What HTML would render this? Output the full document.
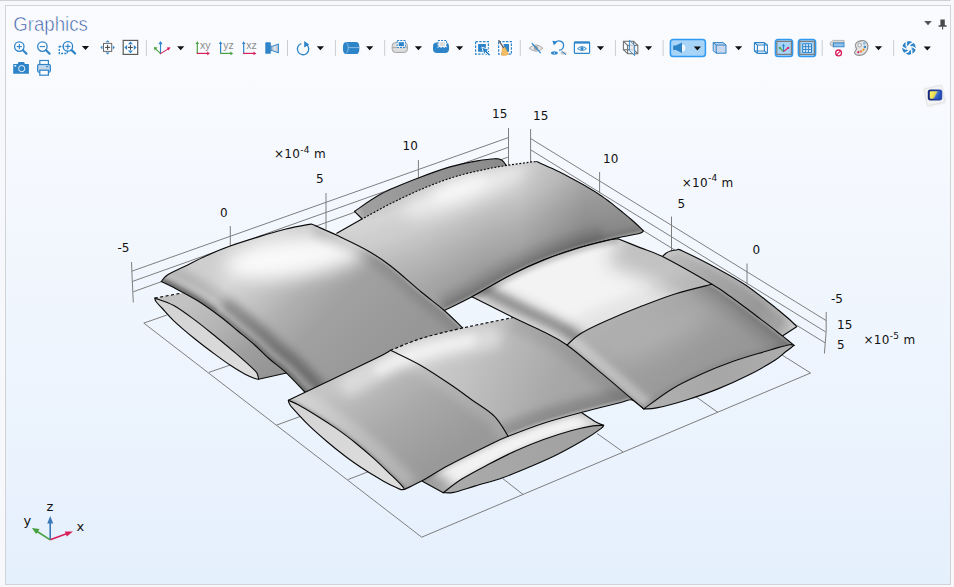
<!DOCTYPE html>
<html><head><meta charset="utf-8"><title>Graphics</title>
<style>
html,body{margin:0;padding:0;background:#f7f8fc;}
body{width:954px;height:587px;overflow:hidden;position:relative;font-family:"Liberation Sans",sans-serif;}
svg{position:absolute;left:0;top:0;display:block}
.ax{font-family:"DejaVu Sans","Liberation Sans",sans-serif;font-size:12px;fill:#111}
.axs{font-family:"DejaVu Sans","Liberation Sans",sans-serif;font-size:9px;fill:#111}
.tri{font-family:"DejaVu Sans","Liberation Sans",sans-serif;font-size:13px;fill:#111}
.ttl{font-family:"Liberation Sans",sans-serif;font-size:20px;fill:#2f54a0}
.ic{font-family:"Liberation Sans",sans-serif;font-size:10.5px;fill:#8c8c8c}
</style></head><body>
<svg width="954" height="587" viewBox="0 0 954 587">
<defs>
<linearGradient id="bg" x1="0" y1="0" x2="0" y2="1">
<stop offset="0" stop-color="#fafbfe"/><stop offset="0.15" stop-color="#f8fafe"/><stop offset="1" stop-color="#e5f0fd"/>
</linearGradient>
<linearGradient id="gH" gradientUnits="userSpaceOnUse" x1="354" y1="211" x2="506" y2="160"><stop offset="0" stop-color="#c0c0c0"/><stop offset="0.06" stop-color="#a0a0a0"/><stop offset="0.5" stop-color="#949494"/><stop offset="1" stop-color="#8a8a8a"/></linearGradient>
<clipPath id="c1"><path d="M354.5 211.4C359.1 208.4 371.2 199.2 381.8 193.6C392.4 188 407 182.4 418.4 178C429.8 173.6 440.2 169.8 450 166.9C459.8 164.1 469.8 162.3 477.3 160.9C484.8 159.5 490.9 158.8 495 158.7C499.1 158.6 500.1 159 502 160.2C503.9 161.4 505.8 164.9 506.5 165.8C505.4 167.5 522.4 166 500 176C477.6 186 395 218.8 372 226C349 233.2 365.1 221.4 362.2 219C359.3 216.6 355.8 212.7 354.5 211.4Z"/></clipPath>
<linearGradient id="gB" gradientUnits="userSpaceOnUse" x1="195" y1="295" x2="270" y2="375"><stop offset="0" stop-color="#c2c2c2"/><stop offset="0.35" stop-color="#b4b4b4"/><stop offset="0.7" stop-color="#9e9e9e"/><stop offset="1" stop-color="#949494"/></linearGradient>
<clipPath id="c2"><path d="M154.8 298.1C159.2 297.3 165.4 296.1 181.3 293.2C197.2 290.3 238.6 283 250 281L300 370C297.6 370.5 292.4 371.6 285.5 373.2C278.6 374.8 263.1 378.3 258.6 379.3C258.5 378.7 258.4 377 257.8 375.6C257.2 374.2 258.6 374.4 255 370.7C251.3 367 242.5 359.1 235.9 353.4C229.3 347.7 222.2 341.9 215.4 336.3C208.6 330.8 201.9 325.2 195 320.1C188.1 315 180.5 309.2 173.8 305.5C167.1 301.8 158 299.3 154.8 298.1Z"/></clipPath>
<linearGradient id="gBc" gradientUnits="userSpaceOnUse" x1="154" y1="298" x2="259" y2="380"><stop offset="0" stop-color="#d2d2d2"/><stop offset="0.5" stop-color="#d8d8d8"/><stop offset="1" stop-color="#dedede"/></linearGradient>
<linearGradient id="gG" gradientUnits="userSpaceOnUse" x1="452" y1="182" x2="488" y2="288"><stop offset="0" stop-color="#c4c4c4"/><stop offset="0.1" stop-color="#d0d0d0"/><stop offset="0.3" stop-color="#c6c6c6"/><stop offset="0.55" stop-color="#b0b0b0"/><stop offset="0.8" stop-color="#9e9e9e"/><stop offset="1" stop-color="#969696"/></linearGradient>
<linearGradient id="gGx" gradientUnits="userSpaceOnUse" x1="420" y1="215" x2="640" y2="215"><stop offset="0" stop-color="#fff" stop-opacity="0.1"/><stop offset="0.3" stop-color="#fff" stop-opacity="0.0"/><stop offset="0.45" stop-color="#000" stop-opacity="0.0"/><stop offset="0.75" stop-color="#000" stop-opacity="0.13"/><stop offset="1" stop-color="#000" stop-opacity="0.1"/></linearGradient>
<filter id="bl8" filterUnits="userSpaceOnUse" x="0" y="0" width="954" height="587"><feGaussianBlur stdDeviation="8"/></filter>
<filter id="bl6" filterUnits="userSpaceOnUse" x="0" y="0" width="954" height="587"><feGaussianBlur stdDeviation="6"/></filter>
<filter id="bl5" filterUnits="userSpaceOnUse" x="0" y="0" width="954" height="587"><feGaussianBlur stdDeviation="5"/></filter>
<filter id="bl3" filterUnits="userSpaceOnUse" x="0" y="0" width="954" height="587"><feGaussianBlur stdDeviation="3"/></filter>
<filter id="bl1" filterUnits="userSpaceOnUse" x="0" y="0" width="954" height="587"><feGaussianBlur stdDeviation="1"/></filter>
<clipPath id="c3"><path d="M336.8 233.2C340.8 230.9 351.7 224.7 361 219.6C370.3 214.5 381.9 207.9 392.4 202.7C402.9 197.5 413.4 192.5 423.9 188.2C434.4 183.8 444.8 179.8 455.3 176.6C465.8 173.4 478.1 170.9 486.8 169C495.5 167.1 500.7 166.4 507.7 165.3C514.7 164.2 524.2 162.9 529 162.3C533.8 161.7 535.4 161.7 536.7 161.6C539.3 162.8 547.1 166.1 552.4 168.6C557.7 171.1 563.2 173.9 568.6 176.7C574 179.5 579.6 182.6 584.7 185.6C589.8 188.6 595 191.7 599.3 194.5C603.6 197.3 606.5 199.5 610.6 202.6C614.7 205.7 619.8 210 623.6 213.1C627.4 216.2 630 218.3 633.3 221.2C636.6 224.1 641.6 229 643.2 230.6C642.7 231 644.2 232 640 233.2C635.8 234.4 623.8 236.5 618 237.8C612.2 239.1 612.5 239 605.3 240.9C598.1 242.8 584.9 245.9 574.7 249.1C564.5 252.3 554.2 255.8 544 259.9C533.8 264 525.3 267.6 513.3 273.7C501.3 279.8 483.5 290.6 472 296.7C460.5 302.8 448.9 308.2 444.3 310.5C436.9 314.1 421.1 342.8 400 332C378.9 321.2 328.5 262.5 318 246C307.5 229.5 333.7 235.3 336.8 233.2Z"/></clipPath>
<filter id="bl2" filterUnits="userSpaceOnUse" x="0" y="0" width="954" height="587"><feGaussianBlur stdDeviation="2"/></filter>
<filter id="bl1_5" filterUnits="userSpaceOnUse" x="0" y="0" width="954" height="587"><feGaussianBlur stdDeviation="1.5"/></filter>
<filter id="bl4" filterUnits="userSpaceOnUse" x="0" y="0" width="954" height="587"><feGaussianBlur stdDeviation="4"/></filter>
<clipPath id="c4"><path d="M422.3 481.3L443.3 492.7C446.4 490.4 454.2 483.9 461.8 479.1C469.4 474.3 480 468.9 489.1 464.1C498.2 459.3 507.3 454.6 516.4 450.5C525.5 446.4 534.5 442.8 543.6 439.5C552.7 436.2 562.7 433.1 570.9 430.8C579.1 428.5 587.2 426.8 592.7 425.9C598.2 425 601.8 425.5 603.6 425.4C602.2 424.8 599 423.9 595.4 421.8C591.8 419.7 584.1 414.3 581.8 412.8C578.2 410.7 585.3 392.1 560 400C534.7 407.9 452.9 446.4 430 460C407.1 473.6 423.6 477.8 422.3 481.3Z"/></clipPath>
<linearGradient id="gDc" gradientUnits="userSpaceOnUse" x1="443" y1="492" x2="603" y2="425"><stop offset="0" stop-color="#acacac"/><stop offset="0.5" stop-color="#a5a5a5"/><stop offset="1" stop-color="#a0a0a0"/></linearGradient>
<linearGradient id="gA" gradientUnits="userSpaceOnUse" x1="232" y1="238" x2="372" y2="372"><stop offset="0" stop-color="#cecece"/><stop offset="0.15" stop-color="#d4d4d4"/><stop offset="0.3" stop-color="#c4c4c4"/><stop offset="0.45" stop-color="#b0b0b0"/><stop offset="0.62" stop-color="#a1a1a1"/><stop offset="1" stop-color="#979797"/></linearGradient>
<filter id="bl9" filterUnits="userSpaceOnUse" x="0" y="0" width="954" height="587"><feGaussianBlur stdDeviation="9"/></filter>
<filter id="bl2_5" filterUnits="userSpaceOnUse" x="0" y="0" width="954" height="587"><feGaussianBlur stdDeviation="2.5"/></filter>
<clipPath id="c5"><path d="M161.3 281.6C161.9 280.9 163.2 278.7 164.6 277.4C166 276.1 166.1 275.7 169.5 273.8C172.9 271.9 178.9 269.2 185 266.2C191.1 263.2 198.8 259.2 206.3 255.8C213.8 252.4 221.2 249.2 230.2 246C239.1 242.8 250.9 239.2 260 236.4C269.1 233.6 277.1 231.3 285 229.3C292.9 227.3 303 225.4 307.5 224.6C312 223.8 310.6 224.1 312 224.3C313.4 224.5 315.3 225.7 316 226C319.6 227.6 328.8 231.4 337.5 235.6C346.2 239.8 359.3 245.8 368.2 250.9C377.1 256 381.8 259.1 390.7 266C399.6 272.9 412.4 284.6 421.3 292C430.2 299.4 437.4 304.5 444.3 310.5C451.2 316.5 458.1 323.6 462.7 328C467.3 332.4 470.4 335.5 472 337L312 399C310.6 397.7 308.2 395.4 303.9 391C299.6 386.6 291.8 378 286 372.6C280.2 367.2 274.4 363.4 269.2 358.8C264 354.2 260.4 350 255 345.2C249.6 340.4 242.9 335.1 237 330.2C231.1 325.3 226.1 320.9 219.5 316C212.9 311.1 205.3 305.5 197.7 300.8C190.1 296.1 179.9 290.8 173.8 287.6C167.7 284.4 163.4 282.6 161.3 281.6Z"/></clipPath>
<linearGradient id="gF" gradientUnits="userSpaceOnUse" x1="670" y1="252" x2="796" y2="330"><stop offset="0" stop-color="#bcbcbc"/><stop offset="0.3" stop-color="#a8a8a8"/><stop offset="0.7" stop-color="#989898"/><stop offset="0.88" stop-color="#a2a2a2"/><stop offset="1" stop-color="#cccccc"/></linearGradient>
<clipPath id="c6"><path d="M662.5 256.6C663.1 256 664.7 254.1 666 253.2C667.3 252.3 668.7 251.5 670.5 251C672.3 250.5 674.7 250 676.8 250C678.9 250 675.5 247.7 683 251.2C690.5 254.7 711.2 265.2 721.7 270.9C732.2 276.6 738.1 279.9 746.3 285.4C754.5 290.9 765.5 299.9 770.8 304C776.1 308.1 775.4 307.6 778.3 310C781.2 312.4 785 315.5 788.1 318.2C791.2 320.9 795.2 325 796.6 326.4L796.6 327L782.8 335.8C777.3 335.8 771.3 346.6 750 336C728.7 325.4 669.6 285.2 655 272C640.4 258.8 661.2 259.2 662.5 256.6Z"/></clipPath>
<linearGradient id="gC1" gradientUnits="userSpaceOnUse" x1="360" y1="370" x2="430" y2="470"><stop offset="0" stop-color="#c4c4c4"/><stop offset="0.2" stop-color="#b8b8b8"/><stop offset="0.5" stop-color="#a9a9a9"/><stop offset="0.8" stop-color="#9f9f9f"/><stop offset="1" stop-color="#999999"/></linearGradient>
<clipPath id="c7"><path d="M288.4 400.3C302.4 393.6 355.3 368.3 372.4 360C389.4 351.7 387.6 351.9 390.7 350.3C395.8 352.9 411.1 359.8 421.3 365.7C431.5 371.6 443.6 379.9 452 385.6C460.4 391.3 464.9 394.9 472 400C479.1 405.1 488.5 410.3 494.5 416.4C500.5 422.4 505.9 433 508.2 436.3C505 437.8 499.1 440.1 489.1 445C479.1 449.9 459.1 459.7 448.2 465.5C437.3 471.3 430.8 476 423.5 480C416.2 484 407.8 487.8 404.6 489.4C404.1 488.8 403.8 487.8 401.8 485.6C399.8 483.4 397.1 480.7 392.4 476.2C387.7 471.7 379.9 464 373.7 458.4C367.5 452.8 361.2 447.5 355 442.5C348.8 437.5 342.4 432.8 336.2 428.4C329.9 424 323.8 420.1 317.5 416.2C311.2 412.3 303.6 407.6 298.7 405C293.8 402.4 290.1 401.1 288.4 400.3Z"/></clipPath>
<linearGradient id="gC2" gradientUnits="userSpaceOnUse" x1="430" y1="345" x2="600" y2="415"><stop offset="0" stop-color="#cccccc"/><stop offset="0.2" stop-color="#c4c4c4"/><stop offset="0.45" stop-color="#b6b6b6"/><stop offset="0.7" stop-color="#a8a8a8"/><stop offset="1" stop-color="#a0a0a0"/></linearGradient>
<filter id="bl1_2" filterUnits="userSpaceOnUse" x="0" y="0" width="954" height="587"><feGaussianBlur stdDeviation="1.2"/></filter>
<clipPath id="c8"><path d="M390.7 350.3C395.8 352.9 411.1 359.8 421.3 365.7C431.5 371.6 443.6 379.9 452 385.6C460.4 391.3 464.9 394.9 472 400C479.1 405.1 488.5 410.3 494.5 416.4C500.5 422.4 505.9 433 508.2 436.3C514.1 434.1 531.3 427.2 543.6 423.2C555.9 419.2 569.1 415.7 581.8 412.3C594.5 408.9 611.6 404.8 620 402.7C628.4 400.6 628.1 398.9 632.1 399.9C636.1 400.9 641.8 407.4 643.8 408.9C642 407.4 639.4 405.4 633 400C626.6 394.6 616.3 385.6 605.3 376.4C594.3 367.2 577.2 352.4 567 345C556.8 337.6 553 336.6 544 332C535 327.4 518.4 319.9 513.3 317.5C504.9 319.2 478 324.5 462.7 328C447.4 331.5 433.3 334.7 421.3 338.4C409.3 342.1 395.8 348.3 390.7 350.3Z"/></clipPath>
<linearGradient id="gCc" gradientUnits="userSpaceOnUse" x1="288" y1="400" x2="404" y2="490"><stop offset="0" stop-color="#d4d4d4"/><stop offset="0.5" stop-color="#d9d9d9"/><stop offset="1" stop-color="#dedede"/></linearGradient>
<filter id="bl3_5" filterUnits="userSpaceOnUse" x="0" y="0" width="954" height="587"><feGaussianBlur stdDeviation="3.5"/></filter>
<clipPath id="c9"><path d="M472 296.7C478.9 292.9 501.3 279.8 513.3 273.7C525.3 267.6 533.8 264 544 259.9C554.2 255.8 564.5 252.3 574.7 249.1C584.9 245.9 598.1 242.6 605.3 240.9C612.5 239.2 615.9 239.1 618 238.7C621.7 240.2 632.6 244.6 640 247.6C647.4 250.6 650.5 250.5 662.5 256.6C674.5 262.7 703.8 279.7 712 284.3C705.8 285.9 687 290.2 675 294C663 297.8 651.6 302.3 640 306.8C628.4 311.3 615.2 316.8 605.3 321.2C595.4 325.6 587.2 329.5 580.8 333.5C574.4 337.5 569.3 343.1 567 345C563.2 342.8 553 336.6 544 332C535 327.4 525.3 323.4 513.3 317.5C501.3 311.6 478.9 300.2 472 296.7Z"/></clipPath>
<linearGradient id="gE2" gradientUnits="userSpaceOnUse" x1="640" y1="300" x2="705" y2="385"><stop offset="0" stop-color="#b0b0b0"/><stop offset="0.3" stop-color="#a3a3a3"/><stop offset="0.7" stop-color="#9b9b9b"/><stop offset="1" stop-color="#969696"/></linearGradient>
<filter id="bl10" filterUnits="userSpaceOnUse" x="0" y="0" width="954" height="587"><feGaussianBlur stdDeviation="10"/></filter>
<clipPath id="c10"><path d="M567 345C569.3 343.1 574.4 337.5 580.8 333.5C587.2 329.5 595.4 325.6 605.3 321.2C615.2 316.8 628.4 311.3 640 306.8C651.6 302.3 663 297.8 675 294C687 290.2 705.8 285.9 712 284.3C715 286.3 724.3 292.2 730 296.2C735.7 300.1 741 304.3 746 308C751 311.7 755.5 315.2 760 318.6C764.5 322 769 325.4 772.8 328.4C776.6 331.4 779.5 333.6 783 336.4C786.5 339.2 792.2 343.9 794.1 345.4C793.4 345.3 792.6 344.3 789.8 344.7C786.9 345.1 781.3 346.7 777 347.9C772.7 349.1 771.3 349.6 764 351.8C756.7 354 743.5 357.7 733.3 361.3C723.1 364.9 712.9 369 702.7 373.6C692.5 378.2 681.8 383 672 388.9C662.2 394.8 648.5 405.6 643.8 408.9C642 407.4 639.4 405.4 633 400C626.6 394.6 616.3 385.6 605.3 376.4C594.3 367.2 573.4 350.2 567 345Z"/></clipPath>
<linearGradient id="gEc" gradientUnits="userSpaceOnUse" x1="644" y1="409" x2="795" y2="346"><stop offset="0" stop-color="#b0b0b0"/><stop offset="0.5" stop-color="#a7a7a7"/><stop offset="1" stop-color="#adadad"/></linearGradient>
<linearGradient id="tcam" x1="0" y1="0" x2="1" y2="0"><stop offset="0" stop-color="#8fa8bf"/><stop offset="0.5" stop-color="#dfe6ee"/><stop offset="1" stop-color="#aebfd0"/></linearGradient>
<linearGradient id="tlogo" x1="0" y1="0.3" x2="1" y2="0.7"><stop offset="0" stop-color="#fff45a"/><stop offset="0.45" stop-color="#e6dc58"/><stop offset="0.62" stop-color="#3f6fd0"/><stop offset="1" stop-color="#1f4bb8"/></linearGradient>
<linearGradient id="tlogo2" x1="0" y1="0" x2="1" y2="0"><stop offset="0" stop-color="#16267e"/><stop offset="1" stop-color="#2b4fb4"/></linearGradient>
<filter id="tsh" x="-30%" y="-30%" width="160%" height="160%"><feGaussianBlur stdDeviation="1"/></filter>
</defs>
<rect x="0" y="0" width="954" height="587" fill="#f7f8fc"/>
<rect x="0" y="0" width="950.5" height="1" fill="#d0d0d0"/>
<rect x="5.5" y="5.5" width="945" height="579" fill="url(#bg)" stroke="#d3d3d3" stroke-width="1"/>
<g stroke-linecap="butt">
<line x1="131.8" y1="271.2" x2="508.4" y2="137.6" stroke="#7e7e7e" stroke-width="1"/>
<line x1="132.6" y1="281.4" x2="508.2" y2="147.4" stroke="#7e7e7e" stroke-width="1"/>
<line x1="133.2" y1="291.8" x2="507.8" y2="157.2" stroke="#7e7e7e" stroke-width="1"/>
<path d="M131.5 262 L132.2 279 L133.3 302.5" fill="none" stroke="#7e7e7e"/>
<line x1="230.3" y1="226" x2="230.3" y2="247" stroke="#7e7e7e" stroke-width="1"/>
<line x1="326" y1="193" x2="326" y2="229" stroke="#7e7e7e" stroke-width="1"/>
<line x1="418.4" y1="160" x2="418.4" y2="179" stroke="#7e7e7e" stroke-width="1"/>
<line x1="508.5" y1="128" x2="508.5" y2="166" stroke="#7e7e7e" stroke-width="1"/>
<line x1="530.6" y1="138.5" x2="826.2" y2="320.6" stroke="#7e7e7e" stroke-width="1"/>
<line x1="530.6" y1="149.8" x2="825.6" y2="331.9" stroke="#7e7e7e" stroke-width="1"/>
<line x1="530.6" y1="161" x2="825" y2="342.8" stroke="#7e7e7e" stroke-width="1"/>
<line x1="530.6" y1="129" x2="530.6" y2="163" stroke="#7e7e7e" stroke-width="1"/>
<line x1="599.6" y1="172" x2="599.6" y2="193" stroke="#7e7e7e" stroke-width="1"/>
<line x1="671.5" y1="216.5" x2="671.5" y2="251" stroke="#7e7e7e" stroke-width="1"/>
<line x1="747" y1="263.5" x2="747" y2="284.5" stroke="#7e7e7e" stroke-width="1"/>
<path d="M826.2 312 L826.2 331 L824.4 353.5" fill="none" stroke="#7e7e7e"/>
<path d="M167.5 314.8 L143.8 323.1 L421.7 537.2 L810.6 373 L782 355" fill="none" stroke="#7e7e7e"/>
<line x1="208.9" y1="372.4" x2="229.8" y2="365.2" stroke="#7e7e7e" stroke-width="1"/>
<line x1="276.6" y1="425.1" x2="300.9" y2="416.2" stroke="#7e7e7e" stroke-width="1"/>
<line x1="348.1" y1="479.5" x2="368.6" y2="471.6" stroke="#7e7e7e" stroke-width="1"/>
<line x1="523.2" y1="494.6" x2="502.7" y2="478.5" stroke="#7e7e7e" stroke-width="1"/>
<line x1="622.9" y1="451.8" x2="596.9" y2="433.4" stroke="#7e7e7e" stroke-width="1"/>
<line x1="718" y1="412.5" x2="695" y2="396" stroke="#7e7e7e" stroke-width="1"/>
</g>
<g clip-path="url(#c1)">
<path d="M354.5 211.4C359.1 208.4 371.2 199.2 381.8 193.6C392.4 188 407 182.4 418.4 178C429.8 173.6 440.2 169.8 450 166.9C459.8 164.1 469.8 162.3 477.3 160.9C484.8 159.5 490.9 158.8 495 158.7C499.1 158.6 500.1 159 502 160.2C503.9 161.4 505.8 164.9 506.5 165.8C505.4 167.5 522.4 166 500 176C477.6 186 395 218.8 372 226C349 233.2 365.1 221.4 362.2 219C359.3 216.6 355.8 212.7 354.5 211.4Z" fill="url(#gH)"/>
</g>
<path d="M354.5 211.4C359.1 208.4 371.2 199.2 381.8 193.6C392.4 188 407 182.4 418.4 178C429.8 173.6 440.2 169.8 450 166.9C459.8 164.1 469.8 162.3 477.3 160.9C484.8 159.5 490.9 158.8 495 158.7C499.1 158.6 500.1 159 502 160.2C503.9 161.4 505.8 164.9 506.5 165.8" fill="none" stroke="#0a0a0a" stroke-width="1.15" stroke-linecap="round" stroke-linejoin="round" />
<path d="M362.2 219L354.5 211.4" fill="none" stroke="#0a0a0a" stroke-width="1.15" stroke-linecap="round" stroke-linejoin="round" />
<g clip-path="url(#c2)">
<path d="M154.8 298.1C159.2 297.3 165.4 296.1 181.3 293.2C197.2 290.3 238.6 283 250 281L300 370C297.6 370.5 292.4 371.6 285.5 373.2C278.6 374.8 263.1 378.3 258.6 379.3C258.5 378.7 258.4 377 257.8 375.6C257.2 374.2 258.6 374.4 255 370.7C251.3 367 242.5 359.1 235.9 353.4C229.3 347.7 222.2 341.9 215.4 336.3C208.6 330.8 201.9 325.2 195 320.1C188.1 315 180.5 309.2 173.8 305.5C167.1 301.8 158 299.3 154.8 298.1Z" fill="url(#gB)"/>
</g>
<path d="M300 370C297.6 370.5 292.4 371.6 285.5 373.2C278.6 374.8 263.1 378.3 258.6 379.3" fill="none" stroke="#0a0a0a" stroke-width="1.15" stroke-linecap="round" stroke-linejoin="round" />
<path d="M154.8 298.1 L182 293" fill="none" stroke="#0a0a0a" stroke-width="1.2" stroke-linecap="butt" stroke-linejoin="round" stroke-dasharray="3 2.5"/>
<path d="M154.8 298.1C158 299.3 167.1 301.8 173.8 305.5C180.5 309.2 188.1 315 195 320.1C201.9 325.2 208.6 330.8 215.4 336.3C222.2 341.9 229.3 347.7 235.9 353.4C242.5 359.1 251.3 367 255 370.7C258.6 374.4 257.2 374.2 257.8 375.6C258.4 377 258.5 378.7 258.6 379.3C258 379.2 257.2 379.3 254.9 378.5C252.7 377.7 249.1 376.4 245.1 374.3C241.1 372.2 235.8 368.9 230.8 365.6C225.9 362.3 221.4 359 215.4 354.6C209.4 350.2 201.9 344.6 195 339C188.1 333.4 179.3 326 173.8 320.8C168.3 315.6 164.9 311.2 161.9 308C158.9 304.8 157.2 303.1 156 301.5C154.8 299.9 155 298.7 154.8 298.1Z" fill="url(#gBc)" stroke="#0a0a0a" stroke-width="1.15" stroke-linejoin="round" />
<g clip-path="url(#c3)">
<path d="M336.8 233.2C340.8 230.9 351.7 224.7 361 219.6C370.3 214.5 381.9 207.9 392.4 202.7C402.9 197.5 413.4 192.5 423.9 188.2C434.4 183.8 444.8 179.8 455.3 176.6C465.8 173.4 478.1 170.9 486.8 169C495.5 167.1 500.7 166.4 507.7 165.3C514.7 164.2 524.2 162.9 529 162.3C533.8 161.7 535.4 161.7 536.7 161.6C539.3 162.8 547.1 166.1 552.4 168.6C557.7 171.1 563.2 173.9 568.6 176.7C574 179.5 579.6 182.6 584.7 185.6C589.8 188.6 595 191.7 599.3 194.5C603.6 197.3 606.5 199.5 610.6 202.6C614.7 205.7 619.8 210 623.6 213.1C627.4 216.2 630 218.3 633.3 221.2C636.6 224.1 641.6 229 643.2 230.6C642.7 231 644.2 232 640 233.2C635.8 234.4 623.8 236.5 618 237.8C612.2 239.1 612.5 239 605.3 240.9C598.1 242.8 584.9 245.9 574.7 249.1C564.5 252.3 554.2 255.8 544 259.9C533.8 264 525.3 267.6 513.3 273.7C501.3 279.8 483.5 290.6 472 296.7C460.5 302.8 448.9 308.2 444.3 310.5C436.9 314.1 421.1 342.8 400 332C378.9 321.2 328.5 262.5 318 246C307.5 229.5 333.7 235.3 336.8 233.2Z" fill="url(#gG)"/>
<rect x="300" y="140" width="360" height="200" fill="url(#gGx)"/>
<ellipse cx="464" cy="191" rx="66" ry="15" transform="rotate(-20 464 191)" fill="#fff" fill-opacity="0.55" filter="url(#bl8)"/>
<ellipse cx="460" cy="188" rx="30" ry="9" transform="rotate(-20 460 188)" fill="#fff" fill-opacity="0.6" filter="url(#bl6)"/>
<path d="M605.3 240.9C600.2 242.3 584.9 245.9 574.7 249.1C564.5 252.3 554.2 255.8 544 259.9C533.8 264 525.3 267.6 513.3 273.7C501.3 279.8 483.5 290.6 472 296.7C460.5 302.8 448.9 308.2 444.3 310.5" fill="none" stroke="#000" stroke-opacity="0.12" stroke-width="30" stroke-linecap="butt" stroke-linejoin="round" filter="url(#bl5)"/>
<path d="M643.2 230.6C642.7 231 644.2 232 640 233.2C635.8 234.4 623.8 236.5 618 237.8C612.2 239.1 612.5 239 605.3 240.9C598.1 242.8 584.9 245.9 574.7 249.1C564.5 252.3 554.2 255.8 544 259.9C533.8 264 525.3 267.6 513.3 273.7C501.3 279.8 483.5 290.6 472 296.7C460.5 302.8 448.9 308.2 444.3 310.5" fill="none" stroke="#000" stroke-opacity="0.12" stroke-width="14" stroke-linecap="butt" stroke-linejoin="round" filter="url(#bl3)"/>
<path d="M643.2 230.6C642.7 231 644.2 232 640 233.2C635.8 234.4 623.8 236.5 618 237.8C612.2 239.1 612.5 239 605.3 240.9C598.1 242.8 584.9 245.9 574.7 249.1C564.5 252.3 554.2 255.8 544 259.9C533.8 264 525.3 267.6 513.3 273.7C501.3 279.8 483.5 290.6 472 296.7C460.5 302.8 448.9 308.2 444.3 310.5" fill="none" stroke="#fff" stroke-opacity="0.3" stroke-width="3.5" stroke-linecap="butt" stroke-linejoin="round" filter="url(#bl1)"/>
<path d="M318 246L400 332" fill="none" stroke="#000" stroke-opacity="0.06" stroke-width="40" stroke-linecap="butt" stroke-linejoin="round" filter="url(#bl8)"/>
</g>
<path d="M336.8 233.2L361 219.6" fill="none" stroke="#0a0a0a" stroke-width="1.15" stroke-linecap="round" stroke-linejoin="round" />
<path d="M361 219.6C366.2 216.8 381.9 207.9 392.4 202.7C402.9 197.5 413.4 192.5 423.9 188.2C434.4 183.8 444.8 179.8 455.3 176.6C465.8 173.4 478.1 170.9 486.8 169C495.5 167.1 500.7 166.4 507.7 165.3C514.7 164.2 524.2 162.9 529 162.3C533.8 161.7 535.4 161.7 536.7 161.6" fill="none" stroke="#0a0a0a" stroke-width="1.15" stroke-linecap="butt" stroke-linejoin="round" stroke-dasharray="1.9 1.7"/>
<path d="M536.7 161.6C539.3 162.8 547.1 166.1 552.4 168.6C557.7 171.1 563.2 173.9 568.6 176.7C574 179.5 579.6 182.6 584.7 185.6C589.8 188.6 595 191.7 599.3 194.5C603.6 197.3 606.5 199.5 610.6 202.6C614.7 205.7 619.8 210 623.6 213.1C627.4 216.2 630 218.3 633.3 221.2C636.6 224.1 641.6 229 643.2 230.6" fill="none" stroke="#0a0a0a" stroke-width="1.15" stroke-linecap="round" stroke-linejoin="round" />
<path d="M643.2 230.6C642.7 231 644.2 232 640 233.2C635.8 234.4 623.8 236.5 618 237.8C612.2 239.1 612.5 239 605.3 240.9C598.1 242.8 584.9 245.9 574.7 249.1C564.5 252.3 554.2 255.8 544 259.9C533.8 264 525.3 267.6 513.3 273.7C501.3 279.8 483.5 290.6 472 296.7C460.5 302.8 448.9 308.2 444.3 310.5" fill="none" stroke="#0a0a0a" stroke-width="1.15" stroke-linecap="round" stroke-linejoin="round" />
<g clip-path="url(#c4)">
<path d="M422.3 481.3L443.3 492.7C446.4 490.4 454.2 483.9 461.8 479.1C469.4 474.3 480 468.9 489.1 464.1C498.2 459.3 507.3 454.6 516.4 450.5C525.5 446.4 534.5 442.8 543.6 439.5C552.7 436.2 562.7 433.1 570.9 430.8C579.1 428.5 587.2 426.8 592.7 425.9C598.2 425 601.8 425.5 603.6 425.4C602.2 424.8 599 423.9 595.4 421.8C591.8 419.7 584.1 414.3 581.8 412.8C578.2 410.7 585.3 392.1 560 400C534.7 407.9 452.9 446.4 430 460C407.1 473.6 423.6 477.8 422.3 481.3Z" fill="#f2f2f2"/>
<path d="M405.9 488.6C412.9 484.8 434.3 472.8 448.2 465.5C462.1 458.2 479.1 449.9 489.1 445C499.1 440.1 499.1 439.9 508.2 436.3C517.3 432.7 531.3 427.2 543.6 423.2C555.9 419.2 569.1 415.7 581.8 412.3C594.5 408.9 613.6 404.3 620 402.7" fill="none" stroke="#000" stroke-opacity="0.14" stroke-width="6" stroke-linecap="butt" stroke-linejoin="round" filter="url(#bl2)"/>
<path d="M443.3 492.7C446.4 490.4 454.2 483.9 461.8 479.1C469.4 474.3 480 468.9 489.1 464.1C498.2 459.3 507.3 454.6 516.4 450.5C525.5 446.4 534.5 442.8 543.6 439.5C552.7 436.2 562.7 433.1 570.9 430.8C579.1 428.5 587.2 426.8 592.7 425.9C598.2 425 601.8 425.5 603.6 425.4" fill="none" stroke="#000" stroke-opacity="0.08" stroke-width="4" stroke-linecap="butt" stroke-linejoin="round" filter="url(#bl1_5)"/>
<path d="M416 477L446 497" fill="none" stroke="#000" stroke-opacity="0.34" stroke-width="30" stroke-linecap="butt" stroke-linejoin="round" filter="url(#bl6)"/>
<path d="M583 408L606 428" fill="none" stroke="#000" stroke-opacity="0.15" stroke-width="18" stroke-linecap="butt" stroke-linejoin="round" filter="url(#bl4)"/>
</g>
<path d="M422.3 481.3L443.3 492.7" fill="none" stroke="#0a0a0a" stroke-width="1.15" stroke-linecap="round" stroke-linejoin="round" />
<path d="M603.6 425.4C602.2 424.8 599 423.9 595.4 421.8C591.8 419.7 584.1 414.3 581.8 412.8" fill="none" stroke="#0a0a0a" stroke-width="1.15" stroke-linecap="round" stroke-linejoin="round" />
<path d="M443.3 492.7C446.4 490.4 454.2 483.9 461.8 479.1C469.4 474.3 480 468.9 489.1 464.1C498.2 459.3 507.3 454.6 516.4 450.5C525.5 446.4 534.5 442.8 543.6 439.5C552.7 436.2 562.7 433.1 570.9 430.8C579.1 428.5 587.2 426.8 592.7 425.9C598.2 425 601.8 425.5 603.6 425.4C603.1 425.9 604.1 426.2 600.9 428.6C597.7 431 591.8 435.2 584.5 439.5C577.2 443.8 566.4 449.9 557.3 454.5C548.2 459.1 539.1 462.9 530 466.8C520.9 470.7 511.8 474.5 502.7 477.7C493.6 480.9 483.6 483.4 475.4 485.9C467.2 488.3 459 491.3 453.6 492.4C448.2 493.5 445 492.6 443.3 492.7Z" fill="url(#gDc)" stroke="#0a0a0a" stroke-width="1.15" stroke-linejoin="round" />
<g clip-path="url(#c5)">
<path d="M161.3 281.6C161.9 280.9 163.2 278.7 164.6 277.4C166 276.1 166.1 275.7 169.5 273.8C172.9 271.9 178.9 269.2 185 266.2C191.1 263.2 198.8 259.2 206.3 255.8C213.8 252.4 221.2 249.2 230.2 246C239.1 242.8 250.9 239.2 260 236.4C269.1 233.6 277.1 231.3 285 229.3C292.9 227.3 303 225.4 307.5 224.6C312 223.8 310.6 224.1 312 224.3C313.4 224.5 315.3 225.7 316 226C319.6 227.6 328.8 231.4 337.5 235.6C346.2 239.8 359.3 245.8 368.2 250.9C377.1 256 381.8 259.1 390.7 266C399.6 272.9 412.4 284.6 421.3 292C430.2 299.4 437.4 304.5 444.3 310.5C451.2 316.5 458.1 323.6 462.7 328C467.3 332.4 470.4 335.5 472 337L312 399C310.6 397.7 308.2 395.4 303.9 391C299.6 386.6 291.8 378 286 372.6C280.2 367.2 274.4 363.4 269.2 358.8C264 354.2 260.4 350 255 345.2C249.6 340.4 242.9 335.1 237 330.2C231.1 325.3 226.1 320.9 219.5 316C212.9 311.1 205.3 305.5 197.7 300.8C190.1 296.1 179.9 290.8 173.8 287.6C167.7 284.4 163.4 282.6 161.3 281.6Z" fill="url(#gA)"/>
<ellipse cx="296" cy="257" rx="72" ry="20" transform="rotate(-8 296 257)" fill="#fff" fill-opacity="0.9" filter="url(#bl9)"/>
<path d="M312 399C310.6 397.7 308.2 395.4 303.9 391C299.6 386.6 291.8 378 286 372.6C280.2 367.2 274.4 363.4 269.2 358.8C264 354.2 260.4 350 255 345.2C249.6 340.4 242.9 335.1 237 330.2C231.1 325.3 226.1 320.9 219.5 316C212.9 311.1 205.3 305.5 197.7 300.8C190.1 296.1 179.9 290.8 173.8 287.6C167.7 284.4 163.4 282.6 161.3 281.6" fill="none" stroke="#000" stroke-opacity="0.12" stroke-width="42" stroke-linecap="butt" stroke-linejoin="round" filter="url(#bl4)"/>
<path d="M312 399C310.6 397.7 308.2 395.4 303.9 391C299.6 386.6 291.8 378 286 372.6C280.2 367.2 274.4 363.4 269.2 358.8C264 354.2 260.4 350 255 345.2C249.6 340.4 242.9 335.1 237 330.2C231.1 325.3 226.1 320.9 219.5 316C212.9 311.1 205.3 305.5 197.7 300.8C190.1 296.1 179.9 290.8 173.8 287.6C167.7 284.4 163.4 282.6 161.3 281.6" fill="none" stroke="#fff" stroke-opacity="0.27" stroke-width="20" stroke-linecap="butt" stroke-linejoin="round" filter="url(#bl2)"/>
<path d="M312 399C310.6 397.7 308.2 395.4 303.9 391C299.6 386.6 291.8 378 286 372.6C280.2 367.2 274.4 363.4 269.2 358.8C264 354.2 260.4 350 255 345.2C249.6 340.4 242.9 335.1 237 330.2C231.1 325.3 226.1 320.9 219.5 316C212.9 311.1 205.3 305.5 197.7 300.8C190.1 296.1 179.9 290.8 173.8 287.6C167.7 284.4 163.4 282.6 161.3 281.6" fill="none" stroke="#000" stroke-opacity="0.3" stroke-width="7" stroke-linecap="butt" stroke-linejoin="round" filter="url(#bl1_5)"/>
<path d="M321 391C319.6 389.7 317.2 387.4 312.9 383C308.6 378.6 300.8 370 295 364.6C289.2 359.2 283.4 355.4 278.2 350.8C273 346.2 269.4 342 264 337.2C258.6 332.4 251.9 327.1 246 322.2C240.1 317.3 231.4 310.4 228.5 308" fill="none" stroke="#000" stroke-opacity="0.2" stroke-width="16" stroke-linecap="round" stroke-linejoin="round" filter="url(#bl4)"/>
<path d="M160 281C162.3 282.1 167.5 284.3 173.8 287.6C180.1 290.9 190.8 296.6 197.7 300.8C204.6 305 212.1 311 215 313" fill="none" stroke="#000" stroke-opacity="0.2" stroke-width="14" stroke-linecap="butt" stroke-linejoin="round" filter="url(#bl2_5)"/>
<path d="M316 226C319.6 227.6 328.8 231.4 337.5 235.6C346.2 239.8 359.3 245.8 368.2 250.9C377.1 256 381.8 259.1 390.7 266C399.6 272.9 412.4 284.6 421.3 292C430.2 299.4 437.4 304.5 444.3 310.5C451.2 316.5 458.1 323.6 462.7 328C467.3 332.4 470.4 335.5 472 337" fill="none" stroke="#000" stroke-opacity="0.1" stroke-width="22" stroke-linecap="butt" stroke-linejoin="round" filter="url(#bl4)"/>
<path d="M316 226C319.6 227.6 328.8 231.4 337.5 235.6C346.2 239.8 359.3 245.8 368.2 250.9C377.1 256 381.8 259.1 390.7 266C399.6 272.9 412.4 284.6 421.3 292C430.2 299.4 437.4 304.5 444.3 310.5C451.2 316.5 458.1 323.6 462.7 328C467.3 332.4 470.4 335.5 472 337" fill="none" stroke="#fff" stroke-opacity="0.25" stroke-width="4" stroke-linecap="butt" stroke-linejoin="round" filter="url(#bl1)"/>
</g>
<path d="M161.3 281.6C161.9 280.9 163.2 278.7 164.6 277.4C166 276.1 166.1 275.7 169.5 273.8C172.9 271.9 178.9 269.2 185 266.2C191.1 263.2 198.8 259.2 206.3 255.8C213.8 252.4 221.2 249.2 230.2 246C239.1 242.8 250.9 239.2 260 236.4C269.1 233.6 277.1 231.3 285 229.3C292.9 227.3 303 225.4 307.5 224.6C312 223.8 310.6 224.1 312 224.3C313.4 224.5 315.3 225.7 316 226" fill="none" stroke="#0a0a0a" stroke-width="1.15" stroke-linecap="round" stroke-linejoin="round" />
<path d="M316 226C319.6 227.6 328.8 231.4 337.5 235.6C346.2 239.8 359.3 245.8 368.2 250.9C377.1 256 381.8 259.1 390.7 266C399.6 272.9 412.4 284.6 421.3 292C430.2 299.4 437.4 304.5 444.3 310.5C451.2 316.5 458.1 323.6 462.7 328C467.3 332.4 470.4 335.5 472 337" fill="none" stroke="#0a0a0a" stroke-width="1.15" stroke-linecap="round" stroke-linejoin="round" />
<path d="M312 399C310.6 397.7 308.2 395.4 303.9 391C299.6 386.6 291.8 378 286 372.6C280.2 367.2 274.4 363.4 269.2 358.8C264 354.2 260.4 350 255 345.2C249.6 340.4 242.9 335.1 237 330.2C231.1 325.3 226.1 320.9 219.5 316C212.9 311.1 205.3 305.5 197.7 300.8C190.1 296.1 179.9 290.8 173.8 287.6C167.7 284.4 163.4 282.6 161.3 281.6" fill="none" stroke="#0a0a0a" stroke-width="1.15" stroke-linecap="round" stroke-linejoin="round" />
<g clip-path="url(#c6)">
<path d="M662.5 256.6C663.1 256 664.7 254.1 666 253.2C667.3 252.3 668.7 251.5 670.5 251C672.3 250.5 674.7 250 676.8 250C678.9 250 675.5 247.7 683 251.2C690.5 254.7 711.2 265.2 721.7 270.9C732.2 276.6 738.1 279.9 746.3 285.4C754.5 290.9 765.5 299.9 770.8 304C776.1 308.1 775.4 307.6 778.3 310C781.2 312.4 785 315.5 788.1 318.2C791.2 320.9 795.2 325 796.6 326.4L796.6 327L782.8 335.8C777.3 335.8 771.3 346.6 750 336C728.7 325.4 669.6 285.2 655 272C640.4 258.8 661.2 259.2 662.5 256.6Z" fill="url(#gF)"/>
<path d="M662.5 256.6C663.1 256 664.7 254.1 666 253.2C667.3 252.3 668.7 251.5 670.5 251C672.3 250.5 674.7 250 676.8 250C678.9 250 675.5 247.7 683 251.2C690.5 254.7 711.2 265.2 721.7 270.9C732.2 276.6 738.1 279.9 746.3 285.4C754.5 290.9 765.5 299.9 770.8 304C776.1 308.1 775.4 307.6 778.3 310C781.2 312.4 785 315.5 788.1 318.2C791.2 320.9 795.2 325 796.6 326.4" fill="none" stroke="#fff" stroke-opacity="0.15" stroke-width="8" stroke-linecap="butt" stroke-linejoin="round" filter="url(#bl2)"/>
</g>
<path d="M662.5 256.6C663.1 256 664.7 254.1 666 253.2C667.3 252.3 668.7 251.5 670.5 251C672.3 250.5 674.7 250 676.8 250C678.9 250 675.5 247.7 683 251.2C690.5 254.7 711.2 265.2 721.7 270.9C732.2 276.6 738.1 279.9 746.3 285.4C754.5 290.9 765.5 299.9 770.8 304C776.1 308.1 775.4 307.6 778.3 310C781.2 312.4 785 315.5 788.1 318.2C791.2 320.9 795.2 325 796.6 326.4" fill="none" stroke="#0a0a0a" stroke-width="1.15" stroke-linecap="round" stroke-linejoin="round" />
<path d="M796.6 326.8L782.8 335.8" fill="none" stroke="#0a0a0a" stroke-width="1.15" stroke-linecap="round" stroke-linejoin="round" />
<g clip-path="url(#c7)">
<path d="M288.4 400.3C302.4 393.6 355.3 368.3 372.4 360C389.4 351.7 387.6 351.9 390.7 350.3C395.8 352.9 411.1 359.8 421.3 365.7C431.5 371.6 443.6 379.9 452 385.6C460.4 391.3 464.9 394.9 472 400C479.1 405.1 488.5 410.3 494.5 416.4C500.5 422.4 505.9 433 508.2 436.3C505 437.8 499.1 440.1 489.1 445C479.1 449.9 459.1 459.7 448.2 465.5C437.3 471.3 430.8 476 423.5 480C416.2 484 407.8 487.8 404.6 489.4C404.1 488.8 403.8 487.8 401.8 485.6C399.8 483.4 397.1 480.7 392.4 476.2C387.7 471.7 379.9 464 373.7 458.4C367.5 452.8 361.2 447.5 355 442.5C348.8 437.5 342.4 432.8 336.2 428.4C329.9 424 323.8 420.1 317.5 416.2C311.2 412.3 303.6 407.6 298.7 405C293.8 402.4 290.1 401.1 288.4 400.3Z" fill="url(#gC1)"/>
<path d="M288.4 400.3C290.1 401.1 293.8 402.4 298.7 405C303.6 407.6 311.2 412.3 317.5 416.2C323.8 420.1 329.9 424 336.2 428.4C342.4 432.8 348.8 437.5 355 442.5C361.2 447.5 367.5 452.8 373.7 458.4C379.9 464 387.7 471.7 392.4 476.2C397.1 480.7 399.8 483.4 401.8 485.6C403.8 487.8 404.1 488.8 404.6 489.4" fill="none" stroke="#fff" stroke-opacity="0.22" stroke-width="30" stroke-linecap="butt" stroke-linejoin="round" filter="url(#bl4)"/>
<path d="M288.4 400.3C290.1 401.1 293.8 402.4 298.7 405C303.6 407.6 311.2 412.3 317.5 416.2C323.8 420.1 329.9 424 336.2 428.4C342.4 432.8 348.8 437.5 355 442.5C361.2 447.5 367.5 452.8 373.7 458.4C379.9 464 387.7 471.7 392.4 476.2C397.1 480.7 399.8 483.4 401.8 485.6C403.8 487.8 404.1 488.8 404.6 489.4" fill="none" stroke="#000" stroke-opacity="0.2" stroke-width="4" stroke-linecap="butt" stroke-linejoin="round" filter="url(#bl1_5)"/>
<path d="M350 385C353.7 383.1 364.5 377.3 372 373.5C379.5 369.7 387 365.5 395 362C403 358.5 415.8 354.1 420 352.5" fill="none" stroke="#fff" stroke-opacity="0.42" stroke-width="22" stroke-linecap="round" stroke-linejoin="round" filter="url(#bl6)"/>
<path d="M380 369C383 367.6 391.3 363.2 398 360.5C404.7 357.8 416.3 353.8 420 352.5" fill="none" stroke="#fff" stroke-opacity="0.6" stroke-width="12" stroke-linecap="round" stroke-linejoin="round" filter="url(#bl4)"/>
<path d="M390.7 350.3C395.8 352.9 411.1 359.8 421.3 365.7C431.5 371.6 443.6 379.9 452 385.6C460.4 391.3 464.9 394.9 472 400C479.1 405.1 488.5 410.3 494.5 416.4C500.5 422.4 505.9 433 508.2 436.3" fill="none" stroke="#fff" stroke-opacity="0.12" stroke-width="20" stroke-linecap="butt" stroke-linejoin="round" filter="url(#bl4)"/>
</g>
<g clip-path="url(#c8)">
<path d="M390.7 350.3C395.8 352.9 411.1 359.8 421.3 365.7C431.5 371.6 443.6 379.9 452 385.6C460.4 391.3 464.9 394.9 472 400C479.1 405.1 488.5 410.3 494.5 416.4C500.5 422.4 505.9 433 508.2 436.3C514.1 434.1 531.3 427.2 543.6 423.2C555.9 419.2 569.1 415.7 581.8 412.3C594.5 408.9 611.6 404.8 620 402.7C628.4 400.6 628.1 398.9 632.1 399.9C636.1 400.9 641.8 407.4 643.8 408.9C642 407.4 639.4 405.4 633 400C626.6 394.6 616.3 385.6 605.3 376.4C594.3 367.2 577.2 352.4 567 345C556.8 337.6 553 336.6 544 332C535 327.4 518.4 319.9 513.3 317.5C504.9 319.2 478 324.5 462.7 328C447.4 331.5 433.3 334.7 421.3 338.4C409.3 342.1 395.8 348.3 390.7 350.3Z" fill="url(#gC2)"/>
<path d="M380 370C383 368.6 391.3 364.2 398 361.5C404.7 358.8 411.3 356.2 420 353.5C428.7 350.8 438.3 348.1 450 345.5C461.7 342.9 483.3 339.2 490 338" fill="none" stroke="#fff" stroke-opacity="0.42" stroke-width="24" stroke-linecap="round" stroke-linejoin="round" filter="url(#bl6)"/>
<path d="M398 360.5C401.7 359.2 411.3 355.2 420 352.5C428.7 349.8 441.7 346.5 450 344.5C458.3 342.5 466.7 341.2 470 340.5" fill="none" stroke="#fff" stroke-opacity="0.55" stroke-width="12" stroke-linecap="round" stroke-linejoin="round" filter="url(#bl4)"/>
<path d="M643.8 408.9C641.8 407.4 636.1 400.9 632.1 399.9C628.1 398.9 628.4 400.6 620 402.7C611.6 404.8 594.5 408.9 581.8 412.3C569.1 415.7 555.9 419.2 543.6 423.2C531.3 427.2 517.3 432.7 508.2 436.3C499.1 439.9 499.1 440.1 489.1 445C479.1 449.9 459.1 459.7 448.2 465.5C437.3 471.3 430.8 476 423.5 480C416.2 484 407.8 487.8 404.6 489.4" fill="none" stroke="#000" stroke-opacity="0.16" stroke-width="28" stroke-linecap="butt" stroke-linejoin="round" filter="url(#bl4)"/>
<path d="M643.8 408.9C641.8 407.4 636.1 400.9 632.1 399.9C628.1 398.9 628.4 400.6 620 402.7C611.6 404.8 594.5 408.9 581.8 412.3C569.1 415.7 555.9 419.2 543.6 423.2C531.3 427.2 517.3 432.7 508.2 436.3C499.1 439.9 499.1 440.1 489.1 445C479.1 449.9 459.1 459.7 448.2 465.5C437.3 471.3 430.8 476 423.5 480C416.2 484 407.8 487.8 404.6 489.4" fill="none" stroke="#fff" stroke-opacity="0.35" stroke-width="4" stroke-linecap="butt" stroke-linejoin="round" filter="url(#bl1_2)"/>
<path d="M513.3 317.5C518.4 319.9 535 327.4 544 332C553 336.6 556.8 337.6 567 345C577.2 352.4 594.3 367.2 605.3 376.4C616.3 385.6 626.6 394.6 633 400C639.4 405.4 642 407.4 643.8 408.9" fill="none" stroke="#000" stroke-opacity="0.08" stroke-width="26" stroke-linecap="butt" stroke-linejoin="round" filter="url(#bl5)"/>
</g>
<path d="M288.4 400.3C302.4 393.6 355.3 368.3 372.4 360C389.4 351.7 387.6 351.9 390.7 350.3" fill="none" stroke="#0a0a0a" stroke-width="1.15" stroke-linecap="round" stroke-linejoin="round" />
<path d="M390.7 350.3C395.8 348.3 409.3 342.1 421.3 338.4C433.3 334.7 447.4 331.5 462.7 328C478 324.5 504.9 319.2 513.3 317.5" fill="none" stroke="#0a0a0a" stroke-width="1.15" stroke-linecap="butt" stroke-linejoin="round" stroke-dasharray="3 2.2"/>
<path d="M390.7 350.3C395.8 352.9 411.1 359.8 421.3 365.7C431.5 371.6 443.6 379.9 452 385.6C460.4 391.3 464.9 394.9 472 400C479.1 405.1 488.5 410.3 494.5 416.4C500.5 422.4 505.9 433 508.2 436.3" fill="none" stroke="#0a0a0a" stroke-width="1.15" stroke-linecap="round" stroke-linejoin="round" />
<path d="M643.8 408.9C641.8 407.4 636.1 400.9 632.1 399.9C628.1 398.9 628.4 400.6 620 402.7C611.6 404.8 594.5 408.9 581.8 412.3C569.1 415.7 555.9 419.2 543.6 423.2C531.3 427.2 517.3 432.7 508.2 436.3C499.1 439.9 499.1 440.1 489.1 445C479.1 449.9 459.1 459.7 448.2 465.5C437.3 471.3 430.8 476 423.5 480C416.2 484 407.8 487.8 404.6 489.4" fill="none" stroke="#0a0a0a" stroke-width="1.15" stroke-linecap="round" stroke-linejoin="round" />
<path d="M288.4 400.3C290.1 401.1 293.8 402.4 298.7 405C303.6 407.6 311.2 412.3 317.5 416.2C323.8 420.1 329.9 424 336.2 428.4C342.4 432.8 348.8 437.5 355 442.5C361.2 447.5 367.5 452.8 373.7 458.4C379.9 464 387.7 471.7 392.4 476.2C397.1 480.7 399.8 483.4 401.8 485.6C403.8 487.8 404.1 488.8 404.6 489.4C404 489.4 402.4 489.9 401 489.6C399.6 489.3 399.2 489.1 396.2 487.6C393.2 486.2 388.4 483.9 383.1 480.9C377.8 477.9 370.6 473.7 364.3 469.6C358.1 465.5 351.8 461.2 345.6 456.5C339.4 451.8 333.1 446.8 326.9 441.5C320.6 436.2 313.7 430.2 308.1 424.7C302.5 419.2 296.2 412.2 293.1 408.7C290 405.2 290.1 404.9 289.3 403.5C288.5 402.1 288.5 400.8 288.4 400.3Z" fill="url(#gCc)" stroke="#0a0a0a" stroke-width="1.15" stroke-linejoin="round" />
<g clip-path="url(#c9)">
<path d="M472 296.7C478.9 292.9 501.3 279.8 513.3 273.7C525.3 267.6 533.8 264 544 259.9C554.2 255.8 564.5 252.3 574.7 249.1C584.9 245.9 598.1 242.6 605.3 240.9C612.5 239.2 615.9 239.1 618 238.7C621.7 240.2 632.6 244.6 640 247.6C647.4 250.6 650.5 250.5 662.5 256.6C674.5 262.7 703.8 279.7 712 284.3C705.8 285.9 687 290.2 675 294C663 297.8 651.6 302.3 640 306.8C628.4 311.3 615.2 316.8 605.3 321.2C595.4 325.6 587.2 329.5 580.8 333.5C574.4 337.5 569.3 343.1 567 345C563.2 342.8 553 336.6 544 332C535 327.4 525.3 323.4 513.3 317.5C501.3 311.6 478.9 300.2 472 296.7Z" fill="#f3f3f3"/>
<path d="M643.8 408.9C642 407.4 639.4 405.4 633 400C626.6 394.6 616.3 385.6 605.3 376.4C594.3 367.2 577.2 352.4 567 345C556.8 337.6 553 336.6 544 332C535 327.4 525.3 323.4 513.3 317.5C501.3 311.6 478.9 300.2 472 296.7" fill="none" stroke="#000" stroke-opacity="0.13" stroke-width="44" stroke-linecap="butt" stroke-linejoin="round" filter="url(#bl5)"/>
<path d="M611.8 366.9C605.4 361.7 583.7 342.9 573.5 335.5C563.3 328.1 559.5 327.1 550.5 322.5C541.5 317.9 531.8 313.9 519.8 308C507.8 302.1 485.4 290.7 478.5 287.2" fill="none" stroke="#000" stroke-opacity="0.3" stroke-width="11" stroke-linecap="round" stroke-linejoin="round" filter="url(#bl3_5)"/>
<path d="M618 238.7C621.7 240.2 632.6 244.6 640 247.6C647.4 250.6 650.5 250.5 662.5 256.6C674.5 262.7 700.8 277.7 712 284.3C723.2 290.9 724.3 292.2 730 296.2C735.7 300.1 741 304.3 746 308C751 311.7 755.5 315.2 760 318.6C764.5 322 769 325.4 772.8 328.4C776.6 331.4 779.5 333.6 783 336.4C786.5 339.2 792.2 343.9 794.1 345.4" fill="none" stroke="#000" stroke-opacity="0.2" stroke-width="56" stroke-linecap="butt" stroke-linejoin="round" filter="url(#bl9)"/>
<path d="M472 296.7C478.9 292.9 501.3 279.8 513.3 273.7C525.3 267.6 533.8 264 544 259.9C554.2 255.8 564.5 252.3 574.7 249.1C584.9 245.9 598.1 242.6 605.3 240.9C612.5 239.2 615.9 239.1 618 238.7" fill="none" stroke="#000" stroke-opacity="0.2" stroke-width="9" stroke-linecap="butt" stroke-linejoin="round" filter="url(#bl2_5)"/>
<path d="M567 345C569.3 343.1 574.4 337.5 580.8 333.5C587.2 329.5 595.4 325.6 605.3 321.2C615.2 316.8 628.4 311.3 640 306.8C651.6 302.3 663 297.8 675 294C687 290.2 705.8 285.9 712 284.3" fill="none" stroke="#000" stroke-opacity="0.06" stroke-width="30" stroke-linecap="butt" stroke-linejoin="round" filter="url(#bl6)"/>
</g>
<g clip-path="url(#c10)">
<path d="M567 345C569.3 343.1 574.4 337.5 580.8 333.5C587.2 329.5 595.4 325.6 605.3 321.2C615.2 316.8 628.4 311.3 640 306.8C651.6 302.3 663 297.8 675 294C687 290.2 705.8 285.9 712 284.3C715 286.3 724.3 292.2 730 296.2C735.7 300.1 741 304.3 746 308C751 311.7 755.5 315.2 760 318.6C764.5 322 769 325.4 772.8 328.4C776.6 331.4 779.5 333.6 783 336.4C786.5 339.2 792.2 343.9 794.1 345.4C793.4 345.3 792.6 344.3 789.8 344.7C786.9 345.1 781.3 346.7 777 347.9C772.7 349.1 771.3 349.6 764 351.8C756.7 354 743.5 357.7 733.3 361.3C723.1 364.9 712.9 369 702.7 373.6C692.5 378.2 681.8 383 672 388.9C662.2 394.8 648.5 405.6 643.8 408.9C642 407.4 639.4 405.4 633 400C626.6 394.6 616.3 385.6 605.3 376.4C594.3 367.2 573.4 350.2 567 345Z" fill="url(#gE2)"/>
<path d="M643.8 408.9C642 407.4 639.4 405.4 633 400C626.6 394.6 616.3 385.6 605.3 376.4C594.3 367.2 577.2 352.4 567 345C556.8 337.6 553 336.6 544 332C535 327.4 525.3 323.4 513.3 317.5C501.3 311.6 478.9 300.2 472 296.7" fill="none" stroke="#fff" stroke-opacity="0.3" stroke-width="24" stroke-linecap="butt" stroke-linejoin="round" filter="url(#bl3)"/>
<path d="M643.8 408.9C642 407.4 639.4 405.4 633 400C626.6 394.6 616.3 385.6 605.3 376.4C594.3 367.2 577.2 352.4 567 345C556.8 337.6 553 336.6 544 332C535 327.4 525.3 323.4 513.3 317.5C501.3 311.6 478.9 300.2 472 296.7" fill="none" stroke="#000" stroke-opacity="0.12" stroke-width="5" stroke-linecap="butt" stroke-linejoin="round" filter="url(#bl1_5)"/>
<ellipse cx="655" cy="335" rx="55" ry="16" transform="rotate(-24 655 335)" fill="#fff" fill-opacity="0.13" filter="url(#bl10)"/>
<path d="M618 238.7C621.7 240.2 632.6 244.6 640 247.6C647.4 250.6 650.5 250.5 662.5 256.6C674.5 262.7 700.8 277.7 712 284.3C723.2 290.9 724.3 292.2 730 296.2C735.7 300.1 741 304.3 746 308C751 311.7 755.5 315.2 760 318.6C764.5 322 769 325.4 772.8 328.4C776.6 331.4 779.5 333.6 783 336.4C786.5 339.2 792.2 343.9 794.1 345.4" fill="none" stroke="#000" stroke-opacity="0.1" stroke-width="34" stroke-linecap="butt" stroke-linejoin="round" filter="url(#bl6)"/>
<path d="M618 238.7C621.7 240.2 632.6 244.6 640 247.6C647.4 250.6 650.5 250.5 662.5 256.6C674.5 262.7 700.8 277.7 712 284.3C723.2 290.9 724.3 292.2 730 296.2C735.7 300.1 741 304.3 746 308C751 311.7 755.5 315.2 760 318.6C764.5 322 769 325.4 772.8 328.4C776.6 331.4 779.5 333.6 783 336.4C786.5 339.2 792.2 343.9 794.1 345.4" fill="none" stroke="#000" stroke-opacity="0.1" stroke-width="14" stroke-linecap="butt" stroke-linejoin="round" filter="url(#bl3)"/>
<path d="M618 238.7C621.7 240.2 632.6 244.6 640 247.6C647.4 250.6 650.5 250.5 662.5 256.6C674.5 262.7 700.8 277.7 712 284.3C723.2 290.9 724.3 292.2 730 296.2C735.7 300.1 741 304.3 746 308C751 311.7 755.5 315.2 760 318.6C764.5 322 769 325.4 772.8 328.4C776.6 331.4 779.5 333.6 783 336.4C786.5 339.2 792.2 343.9 794.1 345.4" fill="none" stroke="#fff" stroke-opacity="0.25" stroke-width="4" stroke-linecap="butt" stroke-linejoin="round" filter="url(#bl1)"/>
<path d="M794.1 345.4C793.4 345.3 792.6 344.3 789.8 344.7C786.9 345.1 781.3 346.7 777 347.9C772.7 349.1 771.3 349.6 764 351.8C756.7 354 743.5 357.7 733.3 361.3C723.1 364.9 712.9 369 702.7 373.6C692.5 378.2 681.8 383 672 388.9C662.2 394.8 648.5 405.6 643.8 408.9" fill="none" stroke="#000" stroke-opacity="0.06" stroke-width="8" stroke-linecap="butt" stroke-linejoin="round" filter="url(#bl2)"/>
</g>
<path d="M472 296.7C478.9 292.9 501.3 279.8 513.3 273.7C525.3 267.6 533.8 264 544 259.9C554.2 255.8 564.5 252.3 574.7 249.1C584.9 245.9 598.1 242.6 605.3 240.9C612.5 239.2 615.9 239.1 618 238.7" fill="none" stroke="#0a0a0a" stroke-width="1.15" stroke-linecap="round" stroke-linejoin="round" />
<path d="M618 238.7C621.7 240.2 632.6 244.6 640 247.6C647.4 250.6 650.5 250.5 662.5 256.6C674.5 262.7 700.8 277.7 712 284.3C723.2 290.9 724.3 292.2 730 296.2C735.7 300.1 741 304.3 746 308C751 311.7 755.5 315.2 760 318.6C764.5 322 769 325.4 772.8 328.4C776.6 331.4 779.5 333.6 783 336.4C786.5 339.2 792.2 343.9 794.1 345.4" fill="none" stroke="#0a0a0a" stroke-width="1.15" stroke-linecap="round" stroke-linejoin="round" />
<path d="M643.8 408.9C642 407.4 639.4 405.4 633 400C626.6 394.6 616.3 385.6 605.3 376.4C594.3 367.2 577.2 352.4 567 345C556.8 337.6 553 336.6 544 332C535 327.4 525.3 323.4 513.3 317.5C501.3 311.6 478.9 300.2 472 296.7" fill="none" stroke="#0a0a0a" stroke-width="1.15" stroke-linecap="round" stroke-linejoin="round" />
<path d="M567 345C569.3 343.1 574.4 337.5 580.8 333.5C587.2 329.5 595.4 325.6 605.3 321.2C615.2 316.8 628.4 311.3 640 306.8C651.6 302.3 663 297.8 675 294C687 290.2 705.8 285.9 712 284.3" fill="none" stroke="#0a0a0a" stroke-width="1.15" stroke-linecap="round" stroke-linejoin="round" />
<path d="M794.1 345.4C793.4 345.3 792.6 344.3 789.8 344.7C786.9 345.1 781.3 346.7 777 347.9C772.7 349.1 771.3 349.6 764 351.8C756.7 354 743.5 357.7 733.3 361.3C723.1 364.9 712.9 369 702.7 373.6C692.5 378.2 681.8 383 672 388.9C662.2 394.8 648.5 405.6 643.8 408.9C645.9 408.7 649.5 409.4 656.7 407.9C664 406.4 677.1 402.9 687.3 399.7C697.5 396.5 707.8 393 718 388.9C728.2 384.8 739.2 379.9 748.7 375.1C758.2 370.3 769.1 363.9 775.3 360C781.4 356.1 782.5 354.2 785.6 351.8C788.7 349.4 792.7 346.5 794.1 345.4Z" fill="url(#gEc)" stroke="#0a0a0a" stroke-width="1.15" stroke-linejoin="round" />
<text x="117.5" y="251.7" class="ax" text-anchor="start">-5</text>
<text x="220" y="217" class="ax" text-anchor="start">0</text>
<text x="316" y="182.8" class="ax" text-anchor="start">5</text>
<text x="402.5" y="149.6" class="ax" text-anchor="start">10</text>
<text x="492" y="118.2" class="ax" text-anchor="start">15</text>
<text x="533" y="120" class="ax" text-anchor="start">15</text>
<text x="603" y="163" class="ax" text-anchor="start">10</text>
<text x="677.5" y="208" class="ax" text-anchor="start">5</text>
<text x="752.5" y="254.3" class="ax" text-anchor="start">0</text>
<text x="831" y="302.7" class="ax" text-anchor="start">-5</text>
<text x="837" y="328.5" class="ax" text-anchor="start">15</text>
<text x="837" y="348.8" class="ax" text-anchor="start">5</text>
<text x="274" y="158.2" class="ax" letter-spacing="0.3">×10<tspan class="axs" dy="-5.5">-4</tspan><tspan dy="5.5"> m</tspan></text>
<text x="681.7" y="186.8" class="ax" letter-spacing="0.3">×10<tspan class="axs" dy="-5.5">-4</tspan><tspan dy="5.5"> m</tspan></text>
<text x="863.5" y="344" class="ax" letter-spacing="0.3">×10<tspan class="axs" dy="-5.5">-5</tspan><tspan dy="5.5"> m</tspan></text>
<g stroke-width="1.6" stroke-linecap="butt">
<line x1="50.2" y1="539.8" x2="50.2" y2="522" stroke="#3b78b8"/>
<line x1="50.2" y1="539.8" x2="66.5" y2="533.8" stroke="#d81e5b"/>
<line x1="50.2" y1="539.8" x2="36.5" y2="531" stroke="#46a040"/>
</g>
<path d="M50.2 516 L53.2 523.5 L47.2 523.5Z" fill="#3b78b8"/>
<path d="M73 531.4 L66.8 536.4 L64.8 531.4Z" fill="#d81e5b"/>
<path d="M31.9 528 L39.6 529 L36.2 534Z" fill="#46a040"/>
<text x="46.5" y="511" class="tri" text-anchor="start">z</text>
<text x="23.5" y="525" class="tri" text-anchor="start">y</text>
<text x="76.5" y="531" class="tri" text-anchor="start">x</text>
<text x="13.2" y="31.4" class="ttl" textLength="74.6" lengthAdjust="spacingAndGlyphs" stroke="#fafbfe" stroke-width="0.6">Graphics</text>
<circle cx="19.3" cy="46.6" r="4.7" fill="#fff" fill-opacity="0.6" stroke="#2e84c8" stroke-width="1.3"/>
<line x1="23" y1="50.3" x2="26.5" y2="53.7" stroke="#2e84c8" stroke-width="2.2" stroke-linecap="round"/>
<line x1="16.7" y1="46.6" x2="21.9" y2="46.6" stroke="#2e84c8" stroke-width="1.1"/>
<line x1="19.3" y1="44" x2="19.3" y2="49.2" stroke="#2e84c8" stroke-width="1.1"/>
<circle cx="42.4" cy="46.6" r="4.7" fill="#fff" fill-opacity="0.6" stroke="#2e84c8" stroke-width="1.3"/>
<line x1="46.1" y1="50.3" x2="49.6" y2="53.7" stroke="#2e84c8" stroke-width="2.2" stroke-linecap="round"/>
<line x1="39.8" y1="46.6" x2="45" y2="46.6" stroke="#2e84c8" stroke-width="1.1"/>
<rect x="59.3" y="46.5" width="8" height="7" fill="none" stroke="#2e84c8" stroke-width="1.3" stroke-dasharray="2 1.2"/>
<circle cx="67.9" cy="46.4" r="4.7" fill="#fff" fill-opacity="0.6" stroke="#2e84c8" stroke-width="1.3"/>
<line x1="71.6" y1="50.1" x2="75.1" y2="53.5" stroke="#2e84c8" stroke-width="2.2" stroke-linecap="round"/>
<line x1="65.3" y1="46.4" x2="70.5" y2="46.4" stroke="#2e84c8" stroke-width="1.1"/>
<line x1="67.9" y1="43.8" x2="67.9" y2="49" stroke="#2e84c8" stroke-width="1.1"/>
<path d="M81.9 46.1 L89.1 46.1 L85.5 50Z" fill="#111"/>
<rect x="103.5" y="43.4" width="8.2" height="8" fill="#fff" fill-opacity="0.5" stroke="#6a6a6a" stroke-width="1"/>
<path d="M105.1 47.4H110.1M107.6 44.9V49.9" stroke="#444" stroke-width="1" fill="none"/>
<path d="M107.6 40.2l2 2h-4zM107.6 54.6l2 -2h-4zM100.4 47.4l2 -2v4zM114.8 47.4l-2 -2v4z" fill="#2e84c8"/>
<rect x="123.2" y="40.4" width="14.5" height="14" fill="#fff" fill-opacity="0.5" stroke="#5c5c5c" stroke-width="1.2"/>
<path d="M128 47.4H132.9M130.45 44.9V49.9" stroke="#444" stroke-width="1" fill="none"/>
<path d="M130.45 41.5l2.5 2.7h-5zM130.45 53.3l2.5 -2.7h-5zM124.3 47.4l2.8 -2.5v5zM136.6 47.4l-2.8 -2.5v5z" fill="#2e84c8"/>
<line x1="146.4" y1="40" x2="146.4" y2="56" stroke="#cdcdcd" stroke-width="1"/>
<g stroke-width="1.1" fill="none" stroke-linecap="round">
<line x1="160.5" y1="53.6" x2="160.5" y2="42.6" stroke="#2e84c8"/>
<line x1="160.5" y1="53.6" x2="154.9" y2="48.2" stroke="#4aa33f"/>
<line x1="160.5" y1="53.6" x2="169.1" y2="48.4" stroke="#d81e5b"/>
</g>
<path d="M160.5 41 l2.1 3.2 h-4.2 z" fill="#2e84c8"/>
<path d="M153.9 47 l3.6 0.6 l-2.8 2.8 z" fill="#4aa33f"/>
<path d="M170.5 47.2 l-3.8 0.2 l1.8 3.2 z" fill="#d81e5b"/>
<path d="M177.1 46.3 L184.3 46.3 L180.7 50.2Z" fill="#111"/>
<path d="M197.3 53.4V43.2" stroke="#4aa33f" stroke-width="1.2" fill="none"/>
<path d="M197.3 41.2l1.8 2.8h-3.6z" fill="#4aa33f"/>
<path d="M196.7 53.4H207.7" stroke="#d81e5b" stroke-width="1.2" fill="none"/>
<path d="M209.9 53.4l-2.8 -1.8v3.6z" fill="#d81e5b"/>
<text x="199.9" y="48.8" class="ic">xy</text>
<path d="M220.6 53.4V43.2" stroke="#2e84c8" stroke-width="1.2" fill="none"/>
<path d="M220.6 41.2l1.8 2.8h-3.6z" fill="#2e84c8"/>
<path d="M220 53.4H231" stroke="#4aa33f" stroke-width="1.2" fill="none"/>
<path d="M233.2 53.4l-2.8 -1.8v3.6z" fill="#4aa33f"/>
<text x="223.2" y="48.8" class="ic">yz</text>
<path d="M243.7 53.4V43.2" stroke="#2e84c8" stroke-width="1.2" fill="none"/>
<path d="M243.7 41.2l1.8 2.8h-3.6z" fill="#2e84c8"/>
<path d="M243.1 53.4H254.1" stroke="#d81e5b" stroke-width="1.2" fill="none"/>
<path d="M256.3 53.4l-2.8 -1.8v3.6z" fill="#d81e5b"/>
<text x="246.3" y="48.8" class="ic">xz</text>
<path d="M266.2 42.3h3.8q0.8 0 0.8 0.8V53.7h-5.5V43.2q0 -0.9 0.9 -0.9z" fill="#2e84c8"/>
<path d="M270.8 46.2h1.8l5.8 -2.2v8.9l-5.8 -2.2h-1.8z" fill="url(#tcam)" stroke="#2e84c8" stroke-width="1"/>
<line x1="287.5" y1="40" x2="287.5" y2="56" stroke="#cdcdcd" stroke-width="1"/>
<path d="M306.6 44.6A5.7 5.7 0 1 1 301.3 43.6" fill="none" stroke="#2e84c8" stroke-width="1.3"/>
<path d="M304.2 41l5 3.4l-5 3.2z" fill="#2e84c8"/>
<path d="M316.8 46.3 L324 46.3 L320.4 50.2Z" fill="#111"/>
<line x1="335.4" y1="40" x2="335.4" y2="56" stroke="#cdcdcd" stroke-width="1"/>
<path d="M346 41.9H356.5Q359.4 41.9 359.4 47.9Q359.4 53.9 356.5 53.9H346Q342.9 53.9 342.9 47.9Q342.9 41.9 346 41.9z" fill="#2e84c8"/>
<path d="M346 42.4Q348.3 43.5 348.3 47.9Q348.3 52.4 346 53.4" fill="none" stroke="#9cc6ea" stroke-width="0.8"/>
<line x1="348.3" y1="47.6" x2="359.2" y2="47.6" stroke="#9cc6ea" stroke-width="0.8"/>
<path d="M366.1 46.3 L373.3 46.3 L369.7 50.2Z" fill="#111"/>
<line x1="384.7" y1="40" x2="384.7" y2="56" stroke="#cdcdcd" stroke-width="1"/>
<rect x="392.2" y="42.6" width="15.2" height="9.8" rx="3.2" fill="#dedede" stroke="#a2a2a2" stroke-width="1"/>
<line x1="392.5" y1="47.6" x2="407" y2="47.6" stroke="#a2a2a2" stroke-width="0.9"/>
<rect x="396.9" y="40.2" width="8.8" height="7.6" fill="#fafbfe"/>
<rect x="398.7" y="42.2" width="5.2" height="4" fill="#2e84c8"/>
<rect x="397.2" y="40.5" width="8.2" height="7" fill="none" stroke="#2e84c8" stroke-width="1" stroke-dasharray="2 1.1"/>
<path d="M414.8 46.3 L422 46.3 L418.4 50.2Z" fill="#111"/>
<rect x="433" y="42.4" width="16" height="10.6" rx="4" fill="#2e84c8"/>
<rect x="437.6" y="40" width="9.4" height="7.9" fill="#fafbfe"/>
<rect x="439.6" y="42.2" width="5.4" height="4" fill="#dcdcdc"/>
<rect x="438" y="40.5" width="8.6" height="7" fill="none" stroke="#2e84c8" stroke-width="1" stroke-dasharray="2 1.1"/>
<path d="M456 46.3 L463.2 46.3 L459.6 50.2Z" fill="#111"/>
<rect x="475.6" y="41.6" width="12.8" height="12.6" fill="none" stroke="#2e84c8" stroke-width="1.2" stroke-dasharray="2.4 1.3"/>
<rect x="478.1" y="44" width="7.8" height="7.8" fill="#2e84c8"/>
<path d="M481.8 47.2L489.6 49.6L487 51L490.6 54.8L489 56.2L485.4 52.4L484.2 55.2z" fill="#2e84c8" stroke="#fafbfe" stroke-width="0.9" stroke-linejoin="round"/>
<rect x="498.6" y="41.6" width="12.8" height="12.6" fill="none" stroke="#2e84c8" stroke-width="1.2" stroke-dasharray="2.4 1.3"/>
<rect x="503.6" y="44" width="5.4" height="7.8" fill="#2e84c8"/>
<path d="M502.6 47.8Q501.6 51.4 501.6 55.2Q505 56 508.4 54.4Q507 50.6 504.8 47z" fill="#f4bc62" stroke="#e8a238" stroke-width="0.5"/>
<line x1="498.6" y1="40.2" x2="503.6" y2="48" stroke="#5a5a5a" stroke-width="1.3"/>
<line x1="520.3" y1="40" x2="520.3" y2="56" stroke="#cdcdcd" stroke-width="1"/>
<path d="M529 48.2Q536 41.6 543 48.2Q536 54.2 529 48.2z" fill="#e2e2e2" stroke="#adadad" stroke-width="1"/>
<circle cx="536" cy="48" r="2.2" fill="#a6a6a6"/>
<line x1="531.9" y1="43.2" x2="540.7" y2="53.1" stroke="#2e84c8" stroke-width="1.2"/>
<path d="M554.8 43.6A4.6 4.6 0 1 1 559 50.2" fill="none" stroke="#2e84c8" stroke-width="1.3"/>
<path d="M552.4 40.8l4.8 0.6l-3.4 3.8z" fill="#2e84c8"/>
<ellipse cx="554.4" cy="53" rx="3.4" ry="1.7" fill="#2e84c8"/>
<circle cx="554.4" cy="53" r="0.8" fill="#cfe2f4"/>
<ellipse cx="563.5" cy="53" rx="3" ry="1.5" fill="#c8c8c8"/>
<line x1="561.6" y1="51.2" x2="566" y2="54.8" stroke="#2e84c8" stroke-width="1"/>
<rect x="574.4" y="42" width="15.2" height="11.4" rx="0.8" fill="#fafbfe" stroke="#2e84c8" stroke-width="1.2"/>
<rect x="574.4" y="41.6" width="15.2" height="2" fill="#2e84c8"/>
<path d="M577.6 48.6Q582 44.8 586.4 48.6Q582 52.2 577.6 48.6z" fill="none" stroke="#2e84c8" stroke-width="1"/>
<circle cx="582" cy="48.5" r="1.5" fill="#2e84c8"/>
<path d="M596.9 46.3 L604.1 46.3 L600.5 50.2Z" fill="#111"/>
<line x1="615.4" y1="40" x2="615.4" y2="56" stroke="#cdcdcd" stroke-width="1"/>
<g fill="none" stroke="#747474" stroke-width="1.1">
<rect x="623.4" y="41.3" width="10.2" height="8.4"/>
<rect x="627.6" y="45.4" width="10.2" height="8.3"/>
<path d="M623.4 41.3l4.2 4.1M633.6 41.3l4.2 4.1M623.4 49.7l4.2 4M633.6 49.7l4.2 4"/>
</g>
<path d="M629.4 40.2l5.2 5v10.4l-5.2 -5z" fill="#e2e6ea" fill-opacity="0.75" stroke="#2e84c8" stroke-width="0.9"/>
<path d="M645 46.3 L652.2 46.3 L648.6 50.2Z" fill="#111"/>
<line x1="663.1" y1="40" x2="663.1" y2="56" stroke="#cdcdcd" stroke-width="1"/>
<rect x="670.4" y="39.4" width="35" height="17.2" rx="2.8" fill="#a8d4f8" stroke="#2f9af2" stroke-width="1.5"/>
<path d="M673.2 45.6h2.6l6.2 -3v10.4l-6.2 -3h-2.6z" fill="#2e84c8"/>
<path d="M682 44.4A3.4 3.5 0 0 1 682 51.4z" fill="#f4f8fc"/>
<path d="M693.8 46.6 L701 46.6 L697.4 50.5Z" fill="#111"/>
<path d="M713.2 42.6h9.8l3 2.4v8.2h-9.8l-3 -2.4z" fill="#c9d6ee" stroke="#2e84c8" stroke-width="1" stroke-linejoin="round"/>
<path d="M716.2 53.2v-8.2h9.8M716.2 45l-3 -2.4" fill="none" stroke="#2e84c8" stroke-width="1"/>
<path d="M735 46.3 L742.2 46.3 L738.6 50.2Z" fill="#111"/>
<g fill="none" stroke="#2e84c8" stroke-width="1.1" stroke-linejoin="round">
<rect x="754.4" y="42.6" width="10" height="8.4" rx="0.6"/>
<rect x="757.4" y="45" width="10" height="8.4" rx="0.6"/>
<path d="M754.4 42.6l3 2.4M764.4 42.6l3 2.4M754.4 51l3 2.4M764.4 51l3 2.4"/>
</g>
<rect x="775.4" y="39.4" width="17.2" height="17.2" rx="2.8" fill="#a8d4f8" stroke="#2f9af2" stroke-width="1.5"/>
<rect x="776.8" y="41.4" width="14.6" height="13" fill="none" stroke="#7e7e7e" stroke-width="1.2"/>
<g stroke-width="1.1" fill="none"><line x1="783.5" y1="51.6" x2="783.5" y2="45.6" stroke="#2e84c8"/><line x1="783.5" y1="51.6" x2="780" y2="48" stroke="#4aa33f"/><line x1="783.5" y1="51.6" x2="788" y2="48" stroke="#d81e5b"/></g>
<path d="M783.5 43.8l1.7 2.4h-3.4z" fill="#2e84c8"/>
<rect x="778.9" y="46.9" width="1.9" height="1.9" fill="#4aa33f"/>
<rect x="787.3" y="46.9" width="1.9" height="1.9" fill="#d81e5b"/>
<rect x="798.4" y="39.4" width="17.2" height="17.2" rx="2.8" fill="#a8d4f8" stroke="#2f9af2" stroke-width="1.5"/>
<rect x="799.8" y="41.4" width="14.6" height="13" fill="none" stroke="#7e7e7e" stroke-width="1.2"/>
<rect x="802.2" y="43.3" width="9.8" height="9.6" fill="#2e84c8"/>
<rect x="803.2" y="44.2" width="2" height="2" fill="#cfe4f8"/>
<rect x="803.2" y="47.1" width="2" height="2" fill="#cfe4f8"/>
<rect x="803.2" y="50" width="2" height="2" fill="#cfe4f8"/>
<rect x="806.1" y="44.2" width="2" height="2" fill="#cfe4f8"/>
<rect x="806.1" y="47.1" width="2" height="2" fill="#cfe4f8"/>
<rect x="806.1" y="50" width="2" height="2" fill="#cfe4f8"/>
<rect x="809" y="44.2" width="2" height="2" fill="#cfe4f8"/>
<rect x="809" y="47.1" width="2" height="2" fill="#cfe4f8"/>
<rect x="809" y="50" width="2" height="2" fill="#cfe4f8"/>
<line x1="822.2" y1="40" x2="822.2" y2="56" stroke="#cdcdcd" stroke-width="1"/>
<path d="M830.2 42.6l3 -2.2h10.8v2.4h-10.8v3.8l-3 -1.6z" fill="#dcdcdc" stroke="#9a9a9a" stroke-width="0.7" stroke-linejoin="round"/>
<rect x="833.4" y="42.9" width="10.6" height="3.9" fill="#8fc1ec" stroke="#2e84c8" stroke-width="0.9"/>
<circle cx="838.6" cy="52.9" r="2.9" fill="#fff" stroke="#d81e5b" stroke-width="1.3"/>
<line x1="836.6" y1="54.9" x2="840.6" y2="50.9" stroke="#d81e5b" stroke-width="1.2"/>
<path d="M861.8 40.6C866.4 40.2 868.6 44 867.8 48.2C867 52.4 863.4 55.6 858.6 55.4C854.6 55.2 853.4 52.4 855.6 50.6C857.6 49 856.2 47.8 855.4 46.4C854.2 43.8 857.6 41 861.8 40.6z" fill="#e2e2e2" stroke="#8e8e8e" stroke-width="1.1"/>
<circle cx="859.6" cy="45.2" r="1.7" fill="#fafbfe" stroke="#8e8e8e" stroke-width="0.8"/>
<circle cx="864.3" cy="43.3" r="1.2" fill="#7db8ea"/>
<path d="M864.9 45.4l1.5 1.5l-1.5 1.5l-1.5 -1.5z" fill="#2e84c8"/>
<path d="M863.3 48.3l1.5 1.5l-1.5 1.5l-1.5 -1.5z" fill="#f0a030"/>
<path d="M860.9 50l1.4 1.4l-1.4 1.4l-1.4 -1.4z" fill="#f07030"/>
<path d="M858.3 50.8l1.4 1.4l-1.4 1.4l-1.4 -1.4z" fill="#d81e5b"/>
<path d="M874.9 46.3 L882.1 46.3 L878.5 50.2Z" fill="#111"/>
<line x1="893.6" y1="40" x2="893.6" y2="56" stroke="#cdcdcd" stroke-width="1"/>
<circle cx="909" cy="47.9" r="7" fill="#2e84c8"/>
<polygon points="911.7 49.4 909 51 906.3 49.4 906.3 46.4 909 44.8 911.7 46.3" fill="#fafbfe"/>
<line x1="911.7" y1="49.4" x2="911.7" y2="56.9" stroke="#fafbfe" stroke-width="1.5"/>
<line x1="909" y1="51" x2="902.5" y2="54.7" stroke="#fafbfe" stroke-width="1.5"/>
<line x1="906.3" y1="49.4" x2="899.8" y2="45.7" stroke="#fafbfe" stroke-width="1.5"/>
<line x1="906.3" y1="46.4" x2="906.3" y2="38.9" stroke="#fafbfe" stroke-width="1.5"/>
<line x1="909" y1="44.8" x2="915.5" y2="41.1" stroke="#fafbfe" stroke-width="1.5"/>
<line x1="911.7" y1="46.3" x2="918.2" y2="50.1" stroke="#fafbfe" stroke-width="1.5"/>
<circle cx="909" cy="47.9" r="7.8" fill="none" stroke="#fafbfe" stroke-width="1.6"/>
<path d="M923.7 46.6 L930.9 46.6 L927.3 50.5Z" fill="#111"/>
<path d="M924.2 21.1 L931.8 21.1 L928 25.3Z" fill="#555"/>
<path d="M940.4 19.4h4.4v5.8h1.8v1.6h-8v-1.6h1.8z" fill="#4a4a4a"/>
<line x1="942.6" y1="26.6" x2="942.6" y2="29.6" stroke="#4a4a4a" stroke-width="1.1"/>
<path d="M13.2 63.9H17.6L18.6 62H24L25 63.9H28.9V73.7H13.2z" fill="#2e84c8"/>
<circle cx="21.7" cy="68.6" r="3.1" fill="#2e84c8" stroke="#eef4fa" stroke-width="1"/>
<rect x="14.4" y="65" width="1.8" height="1.6" fill="#eef4fa"/>
<rect x="37.6" y="64.4" width="12.8" height="8" rx="1.8" fill="#c3d6ea" stroke="#2e84c8" stroke-width="1.2"/>
<rect x="39.8" y="60.5" width="8.6" height="4" fill="#fff" stroke="#2e84c8" stroke-width="1.2"/>
<rect x="39.8" y="70.2" width="8.6" height="5" fill="#fff" stroke="#2e84c8" stroke-width="1.2"/>
<rect x="46" y="66.2" width="2.4" height="1" fill="#2e84c8"/>
<g transform="rotate(-12 934.6 95.6)">
<rect x="925.8" y="87.4" width="17.6" height="17" fill="#9a9a9a" fill-opacity="0.35" filter="url(#tsh)"/>
<rect x="925.6" y="87" width="17.6" height="17" fill="#f3f3f3" stroke="#e0e0e0" stroke-width="0.6"/>
</g>
<rect x="927.8" y="89.6" width="14.4" height="10.8" rx="2.6" fill="url(#tlogo2)"/>
<rect x="929.8" y="91.2" width="10.6" height="7.6" rx="0.8" fill="url(#tlogo)"/>
</svg>
</body></html>
